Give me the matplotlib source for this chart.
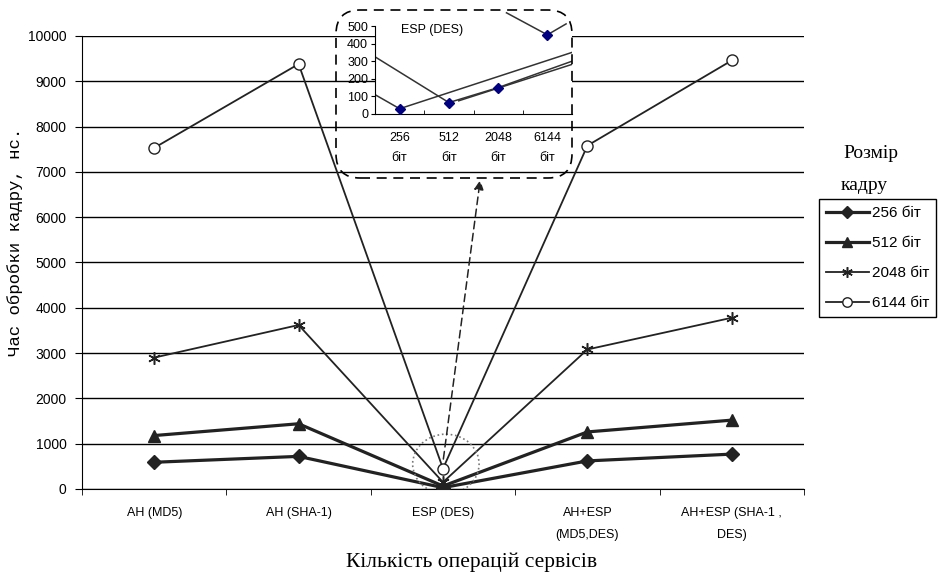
import numpy as np
import matplotlib.pyplot as plt
from matplotlib.patches import FancyBboxPatch, Ellipse
from matplotlib.transforms import IdentityTransform

operations = ['AH (MD5)', 'AH (SHA-1)', 'ESP (DES)', 'AH+ESP\n(MD5,DES)', 'AH+ESP (SHA-1 ,\nDES)']
frame_sizes = ['256 біт', '512 біт', '2048 біт', '6144 біт']

t_256 = [590, 720, 30, 620, 770]
t_512 = [1180, 1440, 65, 1260, 1520]
t_2048 = [2900, 3620, 150, 3080, 3780]
t_6144 = [7530, 9380, 450, 7580, 9460]

# ESP (DES) only, per frame size
esp_labels = ['256\nбіт', '512\nбіт', '2048\nбіт', '6144\nбіт']
esp_values = [30, 65, 150, 450]

# pieces of the other series that cross the zoomed window
inset_x = [[-0.5, 0, 3.5], [-0.5, 1, 2, 3.5], [1.2, 3.5], [2.17, 3, 3.38]]
inset_y = [[110, 30, 350], [325, 65, 150, 300], [75, 282], [575, 450, 512]]

ink = '#222222'
plt.rcParams['font.family'] = ['Liberation Sans', 'DejaVu Sans']

fig = plt.figure(figsize=(9.48, 5.73), dpi=100)
ax = fig.add_axes([0.0865, 0.1466, 0.7616, 0.7906])

x = np.arange(len(operations))
ax.plot(x, t_256, color=ink, lw=2.3, marker='D', ms=7.5, mfc=ink, mec=ink, label=frame_sizes[0], zorder=3)
ax.plot(x, t_512, color=ink, lw=2.3, marker='^', ms=8.5, mfc=ink, mec=ink, label=frame_sizes[1], zorder=3)
ax.plot(x, t_2048, color=ink, lw=1.3, marker=(6, 2, 0), ms=9, mec=ink, mew=1.1, label=frame_sizes[2], zorder=3)
ax.plot(x, t_6144, color=ink, lw=1.3, marker='o', ms=8, mfc='white', mec=ink, mew=1.0, label=frame_sizes[3], zorder=3)

ax.set_xlim(-0.5, len(operations) - 0.5)
ax.set_ylim(0, 10000)
ax.set_yticks(np.arange(0, 10001, 1000))
ax.yaxis.grid(True, color='black', lw=1.0)
ax.set_axisbelow(True)
ax.set_xticks(x)
ax.set_xticklabels(operations, fontsize=9, linespacing=2.1)
ax.set_xticks(np.arange(-0.5, len(operations)), minor=True)
ax.tick_params(axis='x', which='major', length=0, pad=13)
ax.tick_params(axis='x', which='minor', length=4, direction='out')
ax.tick_params(axis='y', length=5, labelsize=10, pad=6)
for s in ['top', 'right']:
    ax.spines[s].set_visible(False)
for s in ['left', 'bottom']:
    ax.spines[s].set_color('black')

fig.text(0.016, 0.578, 'Час обробки кадру, нс.', rotation=90, ha='center', va='center',
         family='Liberation Mono', fontsize=12.5)
fig.text(0.497, 0.019, 'Кількість операцій сервісів', ha='center', va='center',
         family='Liberation Serif', fontsize=15.5)

# dotted ring around the ESP cluster and dashed arrow to the zoom window
ax.add_patch(Ellipse((2.02, 550), 0.46, 1320, fill=False, ls=':', lw=1.2, ec='#777777', zorder=4))
ax.annotate('', xy=(2.26, 6880), xytext=(2, t_6144[2] + 150),
            arrowprops=dict(arrowstyle='-|>', ls=(0, (5, 3)), lw=1.1, color=ink,
                            mutation_scale=14), zorder=5)

# zoom window
ins = fig.add_axes([375 / 948, 1 - 114 / 573, 197 / 948, 104 / 573])
ins.set_facecolor('white')
xi = np.arange(len(esp_values))
for lx, ly in zip(inset_x, inset_y):
    ins.plot(lx, ly, color='#333333', lw=1.1, zorder=2)
ins.plot(xi, esp_values, ls='none', marker='D', ms=5, color='#000080', zorder=3)
ins.set_xlim(-0.5, 3.5)
ins.set_ylim(0, 591)
ins.set_yticks(np.arange(0, 501, 100))
ins.set_xticks(xi)
ins.set_xticklabels(esp_labels, fontsize=9, linespacing=1.9)
ins.set_xticks(np.arange(0.5, 3.5), minor=True)
ins.tick_params(axis='x', which='major', length=0, pad=13)
ins.tick_params(axis='x', which='minor', length=3, direction='in')
ins.tick_params(axis='y', labelsize=9, length=3, pad=2)
ins.spines['left'].set_bounds(0, 500)
for s in ['top', 'right']:
    ins.spines[s].set_visible(False)
ins.text(0.29, 0.81, 'ESP (DES)', transform=ins.transAxes, ha='center', va='center', fontsize=9)

box = FancyBboxPatch((336, 573 - 178), 236, 168, boxstyle='round,pad=0,rounding_size=24',
                     transform=IdentityTransform(), fill=False, ec='black', lw=1.2,
                     ls=(0, (6, 4)), zorder=10)
fig.patches.append(box)

fig.text(843 / 948, 1 - 153 / 573, 'Розмір', ha='left', va='center', family='Liberation Serif', fontsize=14)
fig.text(841 / 948, 1 - 186 / 573, 'кадру', ha='left', va='center', family='Liberation Serif', fontsize=14)
leg = fig.legend(loc='upper left', bbox_to_anchor=(819 / 948, 1 - 199 / 573), borderaxespad=0,
                 fontsize=11, handlelength=2.8, handletextpad=0.2, labelspacing=1.05,
                 borderpad=0.45, fancybox=False, framealpha=1, markerscale=0.85)
leg.get_frame().set_edgecolor('black')
leg.get_frame().set_linewidth(1.0)

fig.savefig('out.png', dpi=100)
